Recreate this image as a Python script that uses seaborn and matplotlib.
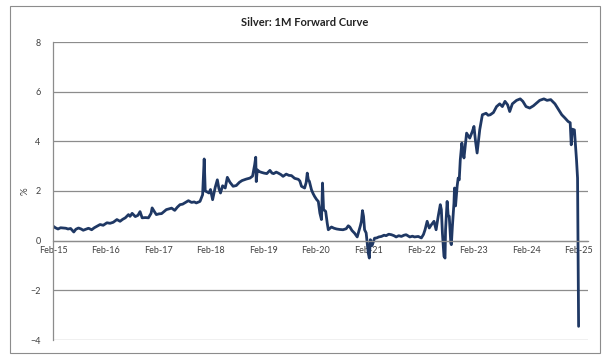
import numpy as np
import pandas as pd
import matplotlib
matplotlib.use("Agg")
import matplotlib.pyplot as plt
import matplotlib.dates as mdates
from matplotlib.patches import Rectangle
import seaborn as sns

# Decimal-year time stamps and 1M forward (%)
years = [
    2015.09, 2015.13, 2015.18, 2015.23, 2015.28, 2015.33, 2015.37, 2015.42, 2015.48, 2015.52,
    2015.57, 2015.62, 2015.66, 2015.71, 2015.76, 2015.82, 2015.87, 2015.92, 2015.98, 2016.04,
    2016.11, 2016.17, 2016.23, 2016.30, 2016.36, 2016.41, 2016.46, 2016.52, 2016.55, 2016.59,
    2016.65, 2016.70, 2016.74, 2016.78, 2016.84, 2016.90, 2016.95, 2016.97, 2017.01, 2017.05,
    2017.10, 2017.15, 2017.20, 2017.24, 2017.29, 2017.34, 2017.40, 2017.45, 2017.50, 2017.55,
    2017.59, 2017.66, 2017.72, 2017.77, 2017.81, 2017.88, 2017.93, 2017.96, 2017.98, 2018.01,
    2018.05, 2018.08, 2018.12, 2018.17, 2018.21, 2018.24, 2018.27, 2018.31, 2018.36, 2018.40,
    2018.45, 2018.51, 2018.57, 2018.63, 2018.68, 2018.76, 2018.83, 2018.88, 2018.92, 2018.94,
    2018.95, 2018.97, 2019.01, 2019.05, 2019.10, 2019.15, 2019.21, 2019.25, 2019.28, 2019.33,
    2019.37, 2019.42, 2019.46, 2019.52, 2019.57, 2019.62, 2019.68, 2019.75, 2019.78, 2019.81,
    2019.87, 2019.90, 2019.92, 2019.94, 2019.96, 2020.00, 2020.03, 2020.06, 2020.10, 2020.13,
    2020.16, 2020.19, 2020.20, 2020.21, 2020.23, 2020.27, 2020.30, 2020.32, 2020.38, 2020.43,
    2020.48, 2020.54, 2020.60, 2020.66, 2020.70, 2020.73, 2020.77, 2020.82, 2020.87, 2020.89,
    2020.93, 2020.95, 2020.97, 2020.99, 2021.01, 2021.04, 2021.08, 2021.10, 2021.12, 2021.15,
    2021.17, 2021.20, 2021.24, 2021.28, 2021.33, 2021.38, 2021.42, 2021.47, 2021.52, 2021.57,
    2021.61, 2021.66, 2021.71, 2021.76, 2021.80, 2021.87, 2021.92, 2021.96, 2022.03, 2022.09,
    2022.13, 2022.16, 2022.20, 2022.24, 2022.28, 2022.33, 2022.37, 2022.41, 2022.45, 2022.47,
    2022.49, 2022.52, 2022.54, 2022.55, 2022.58, 2022.60, 2022.62, 2022.65, 2022.66, 2022.68,
    2022.71, 2022.72, 2022.74, 2022.77, 2022.79, 2022.81, 2022.83, 2022.86, 2022.88, 2022.90,
    2022.95, 2023.01, 2023.06, 2023.09, 2023.12, 2023.15, 2023.20, 2023.25, 2023.32, 2023.36,
    2023.40, 2023.46, 2023.52, 2023.58, 2023.63, 2023.68, 2023.73, 2023.77, 2023.82, 2023.90,
    2023.97, 2024.02, 2024.08, 2024.15, 2024.22, 2024.28, 2024.34, 2024.42, 2024.48, 2024.55,
    2024.63, 2024.70, 2024.76, 2024.82, 2024.88, 2024.92, 2024.94, 2024.96, 2025.00, 2025.04,
    2025.06, 2025.08,
]
fwd_pct = [
    0.58, 0.52, 0.47, 0.52, 0.51, 0.50, 0.47, 0.49, 0.35, 0.46,
    0.51, 0.47, 0.42, 0.46, 0.50, 0.44, 0.52, 0.58, 0.65, 0.62,
    0.72, 0.70, 0.74, 0.85, 0.78, 0.86, 0.92, 1.05, 0.98, 1.10,
    0.97, 1.02, 1.17, 0.92, 0.93, 0.92, 1.10, 1.32, 1.18, 1.05,
    1.08, 1.09, 1.18, 1.25, 1.28, 1.31, 1.22, 1.35, 1.45, 1.47,
    1.52, 1.61, 1.54, 1.56, 1.52, 1.58, 1.85, 3.29, 2.00, 1.97,
    1.92, 2.06, 1.65, 2.15, 2.45, 2.10, 1.92, 2.21, 2.12, 2.55,
    2.35, 2.19, 2.22, 2.35, 2.42, 2.48, 2.52, 2.60, 3.06, 3.36,
    2.38, 2.85, 2.78, 2.75, 2.72, 2.70, 2.83, 2.72, 2.70, 2.76,
    2.72, 2.66, 2.59, 2.68, 2.63, 2.62, 2.51, 2.47, 2.40, 2.19,
    2.12, 2.35, 2.72, 2.45, 2.39, 2.05, 1.90, 1.78, 1.65, 1.58,
    1.11, 0.85, 1.50, 2.32, 1.25, 1.18, 0.70, 0.44, 0.55, 0.50,
    0.47, 0.45, 0.44, 0.48, 0.60, 0.55, 0.41, 0.30, 0.15, 0.30,
    0.60, 0.78, 1.21, 0.98, 0.44, 0.31, -0.50, -0.70, 0.04, -0.20,
    -0.09, 0.10, 0.11, 0.15, 0.17, 0.22, 0.20, 0.26, 0.24, 0.20,
    0.15, 0.20, 0.17, 0.22, 0.24, 0.15, 0.18, 0.15, 0.17, 0.11,
    0.25, 0.44, 0.78, 0.51, 0.64, 0.78, 0.44, 0.98, 1.45, 1.25,
    0.31, -0.63, -0.70, 0.44, 1.58, 1.00, 0.98, -0.10, -0.16, 0.58,
    1.52, 2.12, 1.40, 2.19, 2.52, 2.45, 3.26, 3.93, 3.60, 3.33,
    4.33, 4.13, 4.40, 4.60, 4.00, 3.53, 4.47, 5.07, 5.13, 5.05,
    5.07, 5.16, 5.40, 5.51, 5.40, 5.61, 5.47, 5.20, 5.51, 5.65,
    5.71, 5.61, 5.40, 5.34, 5.43, 5.54, 5.65, 5.71, 5.65, 5.68,
    5.51, 5.27, 5.07, 4.94, 4.80, 4.75, 3.86, 4.49, 4.46, 3.26,
    2.52, -3.45,
]
y_ticks = [-4, -2, 0, 2, 4, 6, 8]

sns.set_style("white")
plt.rcParams["font.family"] = ["Lato", "DejaVu Sans"]

start = pd.Timestamp("2015-01-01")
df = pd.DataFrame({
    "date": [start + pd.Timedelta(days=(y - 2015) * 365.25) for y in years],
    "value": fwd_pct,
})

W, H = 612, 364
fig = plt.figure(figsize=(W / 100, H / 100), dpi=100)
fig.patches.append(Rectangle((10 / W, 1 - 353 / H), 590 / W, 347 / H,
                             transform=fig.transFigure, fill=False,
                             edgecolor="#8c8c8c", linewidth=0.8))

ax = fig.add_axes([53 / W, 1 - 340 / H, (588 - 53) / W, (340 - 42) / H])
sns.lineplot(data=df, x="date", y="value", ax=ax, color="#1f3864", linewidth=2.0)

ax.set_ylim(-4, 8)
ax.set_yticks(y_ticks)
ax.set_xlim(pd.Timestamp("2015-02-01"), pd.Timestamp("2025-04-05"))
ax.xaxis.set_major_locator(mdates.MonthLocator(bymonth=2, bymonthday=1))
ax.xaxis.set_major_formatter(mdates.DateFormatter("%b-%y"))

grid_c = "#8c8c8c"
ax.grid(axis="y", color=grid_c, linewidth=0.9)
ax.set_axisbelow(True)
for s in ["top", "right"]:
    ax.spines[s].set_visible(False)
ax.spines["left"].set_color(grid_c)
ax.spines["left"].set_linewidth(0.9)
ax.spines["bottom"].set_position(("data", 0))
ax.spines["bottom"].set_color(grid_c)
ax.spines["bottom"].set_linewidth(0.9)
ax.tick_params(axis="both", length=0, labelsize=6.5, labelcolor="#404040")
ax.tick_params(axis="x", pad=4)
ax.tick_params(axis="y", pad=9)

ax.set_xlabel("")
ax.set_ylabel("%", fontsize=7, color="#404040")
ax.yaxis.set_label_coords(-23 / (588 - 53), 0.5)
fig.text(305 / W, 1 - 22 / H, "Silver: 1M Forward Curve", ha="center", va="center",
         fontsize=8, fontweight="bold", color="#222222")

fig.savefig("out.png", dpi=100)
